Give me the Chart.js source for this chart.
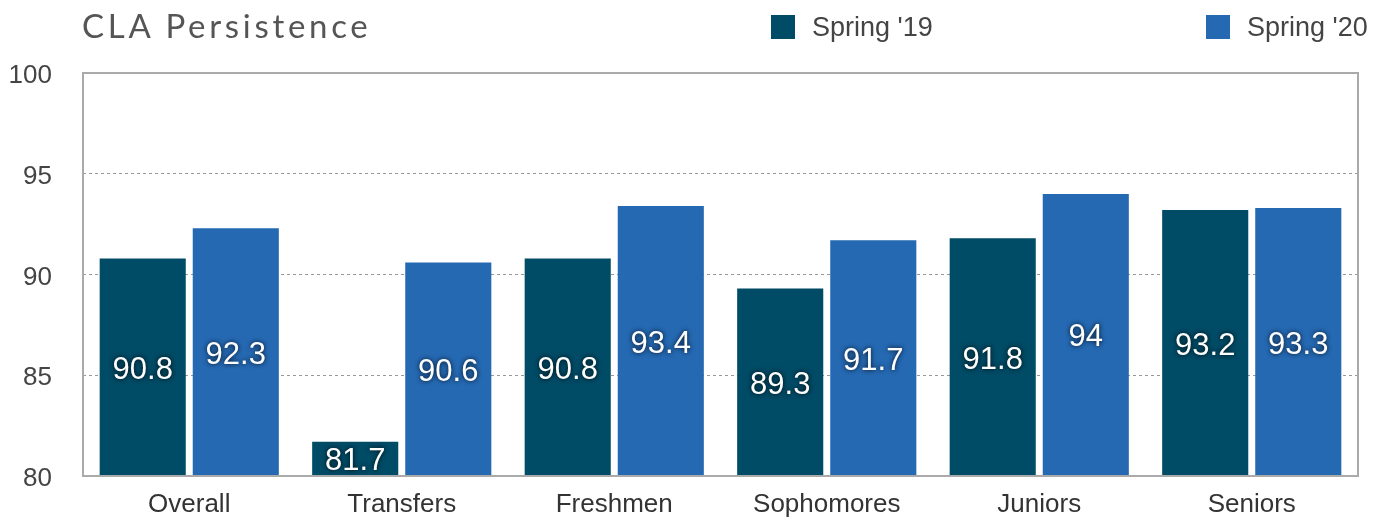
<!DOCTYPE html>
<html lang="en">
<head>
<meta charset="UTF-8">
<title>CLA Persistence</title>
<style>
    body {
        margin: 0;
        padding: 0;
        background-color: #fff;
        font-family: "Liberation Sans", Arial, sans-serif;
    }

    #wrap {
        position: relative;
        width: 1386px;
        height: 518px;
    }

    #title {
        position: absolute;
        left: 82px;
        top: 5px;
        font-family: "Lato", sans-serif;
        font-size: 33px;
        letter-spacing: 3.7px;
        color: #555;
    }

    .legend-item {
        position: absolute;
        top: 13px;
        font-size: 27px;
        color: #444;
        line-height: 28px;
    }

    .legend-item span {
        display: inline-block;
        width: 24px;
        height: 24px;
        vertical-align: top;
        margin-top: 2px;
        margin-right: 17px;
    }

    #chart {
        position: absolute;
        left: 0;
        top: 0;
    }
</style>
</head>
<body>
<div id="wrap">
    <canvas id="chart" width="1386" height="518"></canvas>
    <div id="title">CLA Persistence</div>
    <div id="legend"></div>
</div>

<script src="https://cdn.jsdelivr.net/npm/chart.js"></script>
<script>
    var categories = ['Overall', 'Transfers', 'Freshmen', 'Sophomores', 'Juniors', 'Seniors'];
    var spring19 = [90.8, 81.7, 90.8, 89.3, 91.8, 93.2];
    var spring20 = [92.3, 90.6, 93.4, 91.7, 94, 93.3];
    var seriesNames = ["Spring '19", "Spring '20"];
    var seriesColors = ['#004b66', '#2569b3'];

    // legend in html, spread across the top right
    var legendX = [771, 1206];
    var legend = document.getElementById('legend');
    seriesNames.forEach(function(name, i) {
        var item = document.createElement('div');
        item.className = 'legend-item';
        item.style.left = legendX[i] + 'px';
        item.innerHTML = '<span style="background:' + seriesColors[i] + '"></span>' + name;
        legend.appendChild(item);
    });

    // box around the plot area
    var frame = {
        id: 'frame',
        afterDatasetsDraw: function(chart) {
            var a = chart.chartArea;
            var ctx = chart.ctx;
            ctx.save();
            ctx.strokeStyle = '#aaaaaa';
            ctx.lineWidth = 2;
            ctx.strokeRect(a.left, a.top, a.right - a.left, a.bottom - a.top);
            ctx.restore();
        }
    };

    // white value labels in the middle of each bar
    var valueLabels = {
        id: 'valueLabels',
        afterDraw: function(chart) {
            var ctx = chart.ctx;
            var yScale = chart.scales.y;
            var base = yScale.getPixelForValue(yScale.min);
            ctx.save();
            ctx.font = '31px "Liberation Sans", Arial, sans-serif';
            ctx.fillStyle = '#ffffff';
            ctx.textAlign = 'center';
            ctx.textBaseline = 'middle';
            ctx.shadowColor = 'rgba(0, 0, 0, 0.9)';
            ctx.shadowBlur = 5;
            chart.data.datasets.forEach(function(ds, di) {
                var meta = chart.getDatasetMeta(di);
                ds.data.forEach(function(v, i) {
                    var x = meta.data[i].x;
                    var top = yScale.getPixelForValue(v);
                    ctx.fillText(String(v), x, (top + base) / 2 + 3);
                });
            });
            ctx.restore();
        }
    };

    var ctx = document.getElementById('chart').getContext('2d');
    var myChart = new Chart(ctx, {
        type: 'bar',
        data: {
            labels: categories,
            datasets: [{
                label: seriesNames[0],
                data: spring19,
                backgroundColor: seriesColors[0]
            }, {
                label: seriesNames[1],
                data: spring20,
                backgroundColor: seriesColors[1]
            }]
        },
        options: {
            responsive: false,
            animation: false,
            layout: {
                padding: { top: 73, right: 28, left: 0, bottom: 0 }
            },
            plugins: {
                legend: { display: false },
                title: { display: false },
                tooltip: { enabled: false }
            },
            datasets: {
                bar: {
                    categoryPercentage: 0.876,
                    barPercentage: 0.925
                }
            },
            scales: {
                x: {
                    grid: { display: false, drawTicks: false },
                    border: { display: false },
                    ticks: {
                        color: '#333',
                        padding: 13,
                        font: { size: 26, family: '"Liberation Sans", Arial, sans-serif' }
                    },
                    afterFit: function(scale) { scale.height = 42; }
                },
                y: {
                    min: 80,
                    max: 100,
                    grid: {
                        color: '#999',
                        lineWidth: 1,
                        drawTicks: false
                    },
                    border: { display: false, dash: [3, 3] },
                    ticks: {
                        stepSize: 5,
                        color: '#444',
                        padding: 31,
                        labelOffset: 3,
                        // small lineHeight keeps the tick padding from pushing the plot up
                        font: { size: 26, lineHeight: 0.4, family: '"Liberation Sans", Arial, sans-serif' }
                    },
                    afterFit: function(scale) { scale.width = 83; }
                }
            }
        },
        plugins: [frame, valueLabels]
    });
</script>
</body>
</html>
